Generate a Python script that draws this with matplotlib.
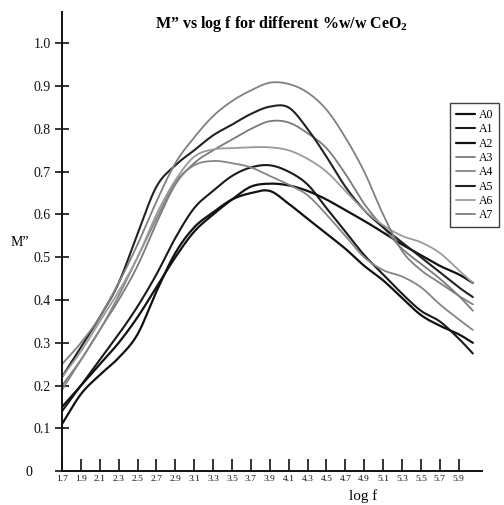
import numpy as np
import matplotlib
matplotlib.use("Agg")
import matplotlib.pyplot as plt

# ---- data ----
log_f = [1.7, 1.9, 2.1, 2.3, 2.5, 2.7, 2.9, 3.1, 3.3, 3.5, 3.7, 3.9, 4.1, 4.3,
         4.5, 4.7, 4.9, 5.1, 5.3, 5.5, 5.7, 5.9, 6.05]
A0 = [0.11, 0.18, 0.225, 0.265, 0.32, 0.42, 0.51, 0.57, 0.605, 0.635, 0.65, 0.655,
      0.625, 0.59, 0.555, 0.52, 0.48, 0.446, 0.405, 0.365, 0.34, 0.32, 0.30]
A1 = [0.14, 0.20, 0.26, 0.32, 0.385, 0.46, 0.545, 0.615, 0.655, 0.69, 0.71, 0.715,
      0.70, 0.67, 0.615, 0.56, 0.505, 0.46, 0.415, 0.375, 0.35, 0.31, 0.275]
A2 = [0.15, 0.20, 0.25, 0.30, 0.36, 0.43, 0.50, 0.56, 0.60, 0.635, 0.665, 0.672,
      0.668, 0.655, 0.635, 0.61, 0.585, 0.558, 0.53, 0.505, 0.48, 0.46, 0.44]
A3 = [0.20, 0.26, 0.33, 0.40, 0.48, 0.58, 0.67, 0.72, 0.75, 0.775, 0.80, 0.818,
      0.815, 0.79, 0.755, 0.695, 0.625, 0.57, 0.52, 0.485, 0.45, 0.41, 0.375]
A4 = [0.19, 0.26, 0.33, 0.41, 0.50, 0.59, 0.675, 0.715, 0.725, 0.72, 0.71, 0.69,
      0.67, 0.645, 0.60, 0.55, 0.50, 0.47, 0.455, 0.43, 0.39, 0.355, 0.33]
A5 = [0.22, 0.29, 0.36, 0.44, 0.555, 0.665, 0.715, 0.75, 0.785, 0.81, 0.835, 0.852,
      0.85, 0.80, 0.735, 0.665, 0.61, 0.57, 0.535, 0.50, 0.465, 0.43, 0.407]
A6 = [0.22, 0.28, 0.35, 0.42, 0.50, 0.60, 0.68, 0.735, 0.752, 0.755, 0.757, 0.757,
      0.75, 0.73, 0.70, 0.655, 0.61, 0.575, 0.55, 0.535, 0.51, 0.47, 0.44]
A7 = [0.25, 0.30, 0.36, 0.44, 0.53, 0.63, 0.72, 0.78, 0.83, 0.865, 0.89, 0.908,
      0.905, 0.885, 0.845, 0.78, 0.70, 0.60, 0.515, 0.47, 0.44, 0.41, 0.39]
series_names = ["A0", "A1", "A2", "A3", "A4", "A5", "A6", "A7"]
series_vals = [A0, A1, A2, A3, A4, A5, A6, A7]
x_tick_vals = [1.7, 1.9, 2.1, 2.3, 2.5, 2.7, 2.9, 3.1, 3.3, 3.5, 3.7, 3.9, 4.1,
               4.3, 4.5, 4.7, 4.9, 5.1, 5.3, 5.5, 5.7, 5.9]
y_tick_vals = [0.1, 0.2, 0.3, 0.4, 0.5, 0.6, 0.7, 0.8, 0.9, 1.0]

styles = {
    "A0": ("#111111", 1.6), "A1": ("#1a1a1a", 1.5), "A2": ("#111111", 1.6),
    "A3": ("#7a7a7a", 1.3), "A4": ("#858585", 1.3), "A5": ("#222222", 1.5),
    "A6": ("#9a9a9a", 1.3), "A7": ("#808080", 1.3),
}


def smooth(x, y, n=24):
    """Catmull-Rom smoothing (like spreadsheet 'smoothed line')."""
    x = np.asarray(x, float)
    y = np.asarray(y, float)
    px = np.concatenate([[2 * x[0] - x[1]], x, [2 * x[-1] - x[-2]]])
    py = np.concatenate([[2 * y[0] - y[1]], y, [2 * y[-1] - y[-2]]])
    xs, ys = [], []
    t = np.linspace(0, 1, n, endpoint=False)
    for i in range(1, len(px) - 2):
        p0, p1, p2, p3 = px[i - 1:i + 3]
        q0, q1, q2, q3 = py[i - 1:i + 3]
        cx = 0.5 * ((2 * p1) + (-p0 + p2) * t + (2 * p0 - 5 * p1 + 4 * p2 - p3) * t ** 2
                    + (-p0 + 3 * p1 - 3 * p2 + p3) * t ** 3)
        cy = 0.5 * ((2 * q1) + (-q0 + q2) * t + (2 * q0 - 5 * q1 + 4 * q2 - q3) * t ** 2
                    + (-q0 + 3 * q1 - 3 * q2 + q3) * t ** 3)
        xs.extend(cx)
        ys.extend(cy)
    xs.append(x[-1])
    ys.append(y[-1])
    return np.array(xs), np.array(ys)


plt.rcParams["font.family"] = ["Liberation Serif", "DejaVu Serif"]
plt.rcParams["mathtext.fontset"] = "custom"
plt.rcParams["mathtext.rm"] = "Liberation Serif"
plt.rcParams["mathtext.bf"] = "Liberation Serif:bold"

fig = plt.figure(figsize=(5.04, 5.05), dpi=100)
ax = fig.add_axes([0.123, 0.067, 0.833, 0.909])

for name, vals in zip(series_names, series_vals):
    c, lw = styles[name]
    sx, sy = smooth(log_f, vals)
    ax.plot(sx, sy, color=c, lw=lw, label=name, solid_capstyle="round")

ax.set_xlim(1.7, 6.145)
ax.set_ylim(0, 1.073)
for s in ("top", "right"):
    ax.spines[s].set_visible(False)
for s in ("left", "bottom"):
    ax.spines[s].set_linewidth(1.4)
    ax.spines[s].set_color("#111111")

ax.set_xticks(x_tick_vals)
ax.set_xticklabels([f"{v:.1f}" for v in x_tick_vals], fontsize=6.8)
ax.set_yticks([0] + y_tick_vals)
ax.set_yticklabels([""] + [f"{v:.1f}" for v in y_tick_vals], fontsize=10)
ax.tick_params(axis="y", direction="inout", length=10, width=1.2, pad=3, colors="#111111")
ax.tick_params(axis="x", direction="in", length=9, width=1.2, pad=2.5, colors="#111111")
ax.annotate("0", xy=(0, 0), xycoords=("axes fraction", "data"), xytext=(-21, -1),
            textcoords="offset points", ha="right", va="center", fontsize=10)

fig.text(0.558, 0.953, "M\u201d vs log f for different %w/w CeO$_\\mathbf{2}$",
         ha="center", va="center", fontsize=11.5, fontweight="bold")
fig.text(0.04, 0.52, "M\u201d", ha="center", va="center", fontsize=10)
fig.text(0.72, 0.017, "log f", ha="center", va="center", fontsize=11)

leg = ax.legend(loc="upper right", bbox_to_anchor=(0.990, 0.796),
                bbox_transform=fig.transFigure, fontsize=8.5, frameon=True,
                fancybox=False, handlelength=1.6, handletextpad=0.3,
                labelspacing=0.2, borderpad=0.5, borderaxespad=0)
leg.get_frame().set_edgecolor("#111111")
leg.get_frame().set_linewidth(1.0)

fig.savefig("out.png", dpi=100)
